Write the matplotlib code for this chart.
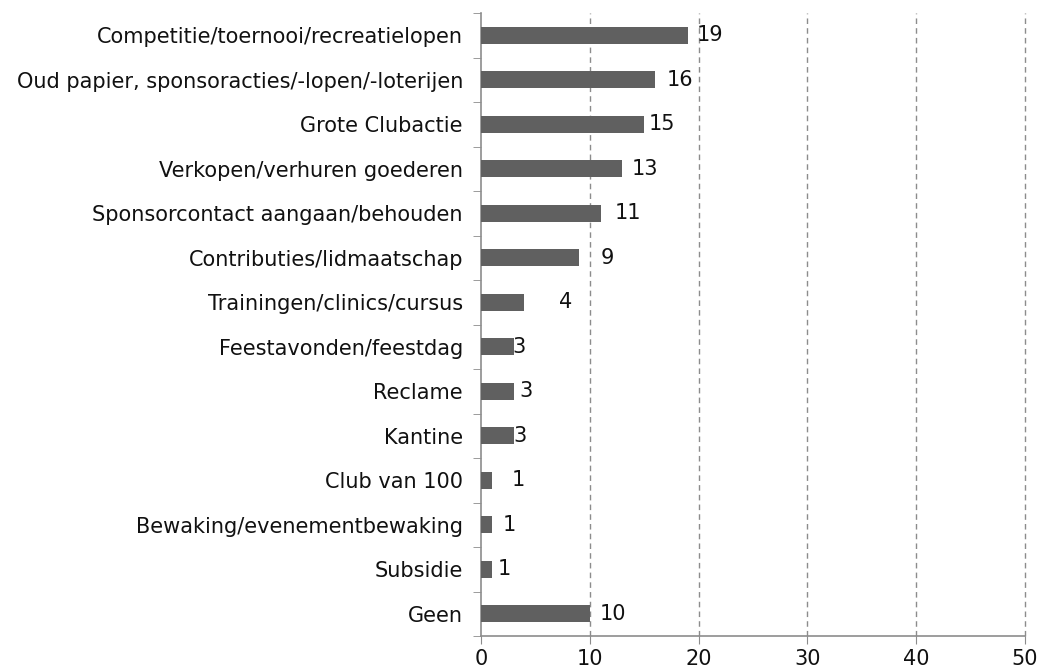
import numpy as np
import matplotlib.pyplot as plt

categories = ['Competitie/toernooi/recreatielopen',
              'Oud papier, sponsoracties/-lopen/-loterijen',
              'Grote Clubactie',
              'Verkopen/verhuren goederen',
              'Sponsorcontact aangaan/behouden',
              'Contributies/lidmaatschap',
              'Trainingen/clinics/cursus',
              'Feestavonden/feestdag',
              'Reclame',
              'Kantine',
              'Club van 100',
              'Bewaking/evenementbewaking',
              'Subsidie',
              'Geen']
values = [19, 16, 15, 13, 11, 9, 4, 3, 3, 3, 1, 1, 1, 10]
# where the value labels sit (data units), as in the original
label_x = [19.85, 17.1, 15.4, 13.9, 12.3, 11.0, 7.2, 2.9, 3.5, 2.95, 2.85, 2.0, 1.5, 10.9]

bar_color = '#606060'
line_color = '#8c8c8c'
fs = 15

fig = plt.figure(figsize=(10.41, 6.70), dpi=100)
ax = fig.add_axes([0.462, 0.0507, 0.5226, 0.9299])

y = np.arange(len(categories))
ax.barh(y, values, height=0.38, color=bar_color, zorder=3)
for yi, v, lx in zip(y, values, label_x):
    ax.text(lx, yi, str(v), ha='left', va='center', fontsize=fs, color='#111111', zorder=4)

ax.set_xlim(0, 50)
ax.set_ylim(len(categories) - 0.5, -0.5)
ax.set_xticks(np.arange(0, 51, 10))
ax.set_yticks(y)
ax.set_yticklabels(categories, fontsize=fs, color='#111111')
ax.set_yticks(np.arange(-0.5, len(categories), 1), minor=True)
ax.tick_params(axis='y', which='major', length=0, pad=13)
ax.tick_params(axis='y', which='minor', length=6, color=line_color, direction='out')
ax.tick_params(axis='x', length=6, color=line_color, direction='out', labelsize=fs,
               labelcolor='#111111', pad=3)

for xv in range(10, 51, 10):
    ax.axvline(xv, color=line_color, linestyle=(0, (4, 3)), linewidth=1, zorder=1,
               clip_on=False)

for s in ['top', 'right']:
    ax.spines[s].set_visible(False)
for s in ['left', 'bottom']:
    ax.spines[s].set_color(line_color)
    ax.spines[s].set_linewidth(1.2)

fig.savefig('out.png', dpi=100)
